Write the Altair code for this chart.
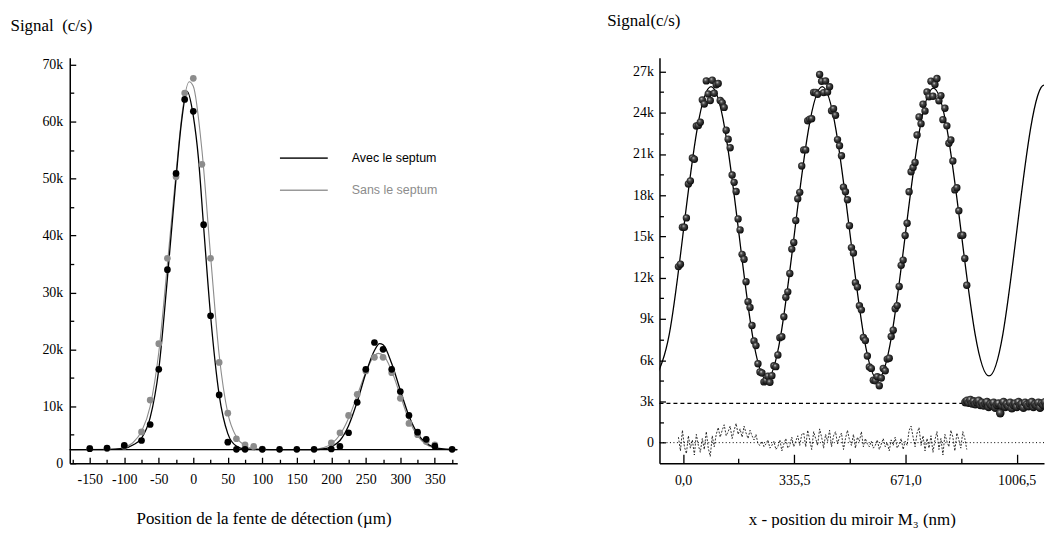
import altair as alt
import pandas as pd

# ---------------- left panel (signal in k c/s) ----------------
avec_x = [-150, -125, -100, -75, -62.5, -50, -37.5, -25, -12.5, 0, 15, 25, 37.5, 50, 62.5, 75,
          100, 125, 150, 175, 200, 212.5, 225, 237.5, 250, 262.5, 275, 287.5, 300, 312.5,
          325, 337.5, 350, 375]
avec_y = [2.56, 2.66, 3.13, 4.0, 6.8, 16.5, 34.0, 50.9, 63.9, 61.8, 41.9, 25.9, 12.0, 3.7, 2.44, 2.44,
          2.44, 2.44, 2.44, 2.44, 2.5, 2.96, 5.35, 10.7, 16.5, 21.2, 20.0, 16.5, 12.6, 8.4,
          5.45, 4.2, 3.0, 2.44]
sans_x = [-150, -125, -100, -75, -62.5, -50, -37.5, -25, -12.5, 0, 12.5, 25, 37.5, 50, 62.5, 75,
          87.5, 100, 200, 212.5, 225, 237.5, 250, 262.5, 275, 287.5, 300, 312.5, 325, 337.5, 350]
sans_y = [2.6, 2.6, 3.0, 5.5, 11.1, 21.0, 36.0, 50.3, 65.0, 67.6, 52.5, 36.0, 17.7, 8.8, 4.3, 3.25,
          2.96, 2.5, 3.6, 5.35, 8.4, 12.1, 16.2, 18.6, 18.6, 15.9, 11.4, 7.0, 5.0, 3.8, 3.25]
avec_fit_x = [-179, -125, -100, -87.5, -75, -62.5, -50, -37.5, -25, -17.5, -9, 0, 7.5, 15, 25, 37.5,
              50, 62.5, 75, 100, 175, 187.5, 200, 212.5, 225, 237.5, 250, 262.5, 270, 275, 287.5,
              300, 312.5, 325, 337.5, 350, 362.5, 382.5]
avec_fit_y = [2.4, 2.4, 2.6, 3.2, 4.4, 8.0, 16.5, 32.5, 50.0, 59.5, 65.3, 61.0, 53.5, 41.5, 26.0, 12.0,
              5.2, 3.0, 2.5, 2.4, 2.4, 2.5, 2.9, 4.0, 6.6, 10.8, 15.8, 19.8, 21.0, 20.8, 17.5,
              12.8, 8.3, 5.2, 3.5, 2.8, 2.5, 2.4]
sans_fit_x = [-179, -112.5, -100, -87.5, -75, -62.5, -50, -37.5, -25, -15, -6, 0, 12.5, 25, 37.5, 50,
              62.5, 75, 87.5, 112.5, 175, 187.5, 200, 212.5, 225, 237.5, 250, 262.5, 268, 275,
              287.5, 300, 312.5, 325, 337.5, 350, 362.5, 382.5]
sans_fit_y = [2.4, 2.5, 2.8, 3.6, 5.6, 10.0, 19.5, 35.0, 51.0, 62.5, 67.0, 66.2, 55.0, 36.5, 19.0, 8.8,
              4.6, 3.1, 2.6, 2.4, 2.4, 2.7, 3.4, 5.0, 7.9, 11.9, 16.0, 18.9, 19.3, 19.0,
              16.2, 11.9, 7.6, 4.8, 3.3, 2.7, 2.45, 2.4]
left_baseline = [2.4]
left_x_domain = [-179, 382.5]
left_y_domain = [0, 71.2]
left_x_ticks = [-175, -150, -125, -100, -75, -50, -25, 0, 25, 50, 75, 100, 125, 150, 175, 200,
                225, 250, 275, 300, 325, 350, 375]
left_y_ticks = [0, 5, 10, 15, 20, 25, 30, 35, 40, 45, 50, 55, 60, 65, 70]
legend_labels = ["Avec le septum", "Sans le septum"]

# ---------------- right panel (signal in k c/s) ----------------
mirror_x = [-14, -8, -2, 4, 10, 16, 22, 28, 34, 40, 46, 52, 58, 64, 70, 76, 82, 88, 94, 100,
            106, 112, 118, 124, 130, 136, 142, 148, 154, 160, 166, 172, 178, 184, 190, 196, 202, 208, 214, 220,
            226, 232, 238, 244, 250, 256, 262, 268, 274, 280, 286, 292, 298, 304, 310, 316, 322, 328, 334, 340,
            346, 352, 358, 364, 370, 376, 382, 388, 394, 400, 406, 412, 418, 424, 430, 436, 442, 448, 454, 460,
            466, 472, 478, 484, 490, 496, 502, 508, 514, 520, 526, 532, 538, 544, 550, 556, 562, 568, 574, 580,
            586, 592, 598, 604, 610, 616, 622, 628, 634, 640, 646, 652, 658, 664, 670, 676, 682, 688, 694, 700,
            706, 712, 718, 724, 730, 736, 742, 748, 754, 760, 766, 772, 778, 784, 790, 796, 802, 808, 814, 820,
            826, 832, 838, 844, 850, 856]
mirror_y = [12.81, 12.98, 15.67, 15.67, 16.35, 18.82, 19.04, 20.71, 20.62, 23.04,
            23.08, 23.31, 24.94, 24.64, 26.32, 25.37, 24.89, 26.37, 25.42, 26.04,
            26.13, 24.90, 24.74, 24.39, 22.73, 22.08, 21.46, 19.47, 18.94, 18.27,
            16.28, 15.48, 13.70, 13.34, 11.71, 10.25, 9.84, 8.52, 7.39, 7.06,
            5.74, 5.14, 5.07, 4.42, 4.51, 4.83, 4.39, 4.87, 5.59, 5.53,
            6.38, 7.64, 7.71, 9.16, 10.58, 10.97, 12.31, 14.08, 14.57, 16.16,
            17.75, 18.21, 20.13, 21.30, 21.30, 23.42, 23.54, 23.57, 25.48, 25.48,
            25.35, 26.79, 26.29, 25.47, 26.31, 25.51, 25.89, 24.15, 24.29, 23.82,
            22.05, 21.60, 20.87, 18.58, 18.25, 17.67, 15.78, 14.19, 13.80, 11.64,
            11.32, 9.96, 9.66, 7.65, 7.43, 6.30, 5.50, 5.40, 4.54, 4.50,
            4.80, 4.14, 4.70, 5.40, 5.23, 6.08, 6.14, 7.72, 8.18, 9.74,
            9.97, 11.36, 12.90, 13.28, 15.07, 15.96, 18.25, 19.71, 20.02, 20.38,
            22.38, 23.69, 23.21, 24.62, 24.13, 25.51, 25.17, 26.30, 25.20, 26.06,
            26.49, 24.88, 25.25, 23.50, 24.33, 23.05, 21.78, 22.02, 20.49, 18.39,
            18.55, 16.87, 15.08, 15.09, 13.40, 11.45]
residual_y = [0.4, -0.6, 0.9, -0.3, -0.8, 0.5, -0.4, 0.2, -0.9, 0.6, -0.2, -0.7, 0.3, -0.5, 0.8, -0.4, -1.0, 0.5, -0.3,
              0.6, 1.1, 0.4, 0.9, 1.3, 0.5, 0.8, 1.2, 0.3, 0.9, 1.4, 0.6, 1.0, 0.4, 1.2, 0.7, 0.3, 0.9, 0.5, 0.2, 0.6, -0.1,
              -0.2, 0.1, -0.3, -0.1, 0.2, -0.4, -0.2, 0.1, -0.5, -0.3, 0.2, -0.6, -0.1, 0.3, -0.4, -0.2, 0.4, -0.3, 0.1, 0.5, -0.2, 0.6,
              0.7, -0.3, 0.9, 0.2, -0.5, 0.8, 0.3, -0.2, 1.0, 0.4, -0.4, 0.6, 0.1, 0.9, -0.3, 0.5, 0.8, -0.1, 0.4, 0.7,
              -0.5, 0.3, 0.9, 0.2, -0.2, 0.6, -0.4, 0.4, 0.1, 0.8, -0.3, 0.3, -0.1,
              -0.3, 0.1, -0.4, -0.2, 0.2, -0.5, -0.1, 0.3, -0.3, 0.0, -0.6, 0.2, -0.2, 0.4, -0.4, -0.1, 0.3, -0.5, 0.1, -0.2,
              0.9, 1.2, 0.4, -0.3, 0.7, 1.1, -0.2, 0.5, -0.6, 0.3,
              -0.4, 0.5, -0.7, 0.2, 0.8, -0.5, 0.3, -0.9, 0.6, 0.1, -0.3, 0.9, 0.4, -0.6, 0.7, 0.2, -0.4, 0.8, 0.3, -0.5]
fit_x = [-83.5, -41.6, 0.4, 42.3, 84.3, 126.2, 168.1, 210.1, 252.0, 294.0, 335.9, 377.8, 419.8, 461.7,
         503.6, 545.6, 587.5, 629.4, 671.4, 713.3, 755.3, 797.2, 839.1, 881.1, 923.0, 964.9, 1006.9,
         1048.8, 1090.8, 1132.7]
fit_y = [4.7, 7.9, 15.3, 22.8, 25.9, 22.8, 15.3, 7.7, 4.6, 7.7, 15.2, 22.7, 25.9, 22.7,
         15.2, 7.7, 4.6, 7.8, 15.3, 22.7, 25.8, 22.7, 15.3, 7.9, 4.85, 7.9, 15.4,
         22.9, 26.0, 22.9]
background_x = [852, 857, 862, 867, 872, 877, 882, 887, 892, 897, 902, 907, 912, 917, 922, 927, 932, 937,
                942, 947, 952, 957, 962, 967, 972, 977, 982, 987, 992, 997, 1002, 1007, 1012, 1017, 1022,
                1027, 1032, 1037, 1042, 1047, 1052, 1057, 1062, 1067, 1072, 1077, 1082, 1087, 1092, 1097,
                1102, 1107]
background_y = [2.95, 3.05, 2.90, 3.10, 2.85, 3.00, 2.80, 2.95, 3.05, 2.75,
                2.90, 2.70, 2.85, 2.95, 2.60, 2.80, 2.70, 2.90, 2.55, 2.75,
                2.85, 2.15, 2.70, 2.95, 2.60, 2.80, 2.65, 2.90, 2.50, 2.75,
                2.85, 2.60, 2.95, 2.70, 2.80, 2.55, 2.90, 2.75, 2.65, 2.85,
                2.95, 2.60, 2.80, 2.70, 2.90, 2.55, 2.85, 2.75, 2.95, 2.65,
                2.80, 2.90]
background_level = 2.85
right_x_domain = [-71.2, 1089]
right_y_domain = [-1.5, 28]
right_x_ticks = [0, 167.75, 335.5, 503.25, 671, 838.75, 1006.5]
right_y_ticks = [0, 1.5, 3, 4.5, 6, 7.5, 9, 10.5, 12, 13.5, 15, 16.5, 18, 19.5, 21, 22.5, 24, 25.5, 27]

SERIF = "Liberation Serif"
SANS = "Liberation Sans"
PLOT_H = 407

common_axis = dict(labelFont=SERIF, labelFontSize=14, labelColor="black",
                   titleFont=SERIF, titleFontSize=17, titleFontWeight="normal", titleColor="black",
                   domainColor="black", domainWidth=1.5, tickColor="black", tickWidth=1.3, grid=False)

# ---------------- left panel ----------------
lx = alt.X("x:Q", scale=alt.Scale(domain=left_x_domain, nice=False, zero=False),
           axis=alt.Axis(values=left_x_ticks,
                         labelExpr="datum.value % 50 == 0 ? '' + datum.value : ''",
                         tickSize={"expr": "datum.value % 50 == 0 ? -6 : -4"},
                         labelPadding=15,
                         title="Position de la fente de détection (µm)",
                         titleY=60, titleBaseline="alphabetic", **common_axis))
ly = alt.Y("y:Q", scale=alt.Scale(domain=left_y_domain, nice=False, zero=False),
           axis=alt.Axis(values=left_y_ticks,
                         labelExpr="datum.value % 10 == 0 ? (datum.value == 0 ? '0' : datum.value + 'k') : ''",
                         tickSize={"expr": "datum.value % 10 == 0 ? -6 : -4"},
                         labelPadding=13,
                         title="Signal\u00a0 (c/s)", titleAngle=0, titleAlign="left",
                         titleX=-60, titleY=-27, titleBaseline="alphabetic", **common_axis))

sans_line = alt.Chart(pd.DataFrame({"x": sans_fit_x, "y": sans_fit_y})).mark_line(
    color="#8c8c8c", strokeWidth=1.1, interpolate="monotone").encode(x=lx, y=ly)
avec_line = alt.Chart(pd.DataFrame({"x": avec_fit_x, "y": avec_fit_y})).mark_line(
    color="black", strokeWidth=1.3, interpolate="monotone").encode(x=lx, y=ly)
base_rule = alt.Chart(pd.DataFrame({"y": left_baseline})).mark_rule(
    color="black", strokeWidth=1.3).encode(y=ly)
sans_pts = alt.Chart(pd.DataFrame({"x": sans_x, "y": sans_y})).mark_circle(
    color="#8c8c8c", size=45, opacity=1).encode(x=lx, y=ly)
avec_pts = alt.Chart(pd.DataFrame({"x": avec_x, "y": avec_y})).mark_circle(
    color="black", size=45, opacity=1).encode(x=lx, y=ly)

one = pd.DataFrame({"a": [0]})
leg1 = alt.Chart(one).mark_rule(color="#333333", strokeWidth=2).encode(
    x=alt.value(211), x2=alt.value(259), y=alt.value(100.7))
leg2 = alt.Chart(one).mark_rule(color="#999999", strokeWidth=1.5).encode(
    x=alt.value(211), x2=alt.value(259), y=alt.value(133))
legt1 = alt.Chart(one).mark_text(text=legend_labels[0], align="left", baseline="middle",
                                 font=SANS, fontSize=12.5, color="black").encode(
    x=alt.value(283), y=alt.value(101))
legt2 = alt.Chart(one).mark_text(text=legend_labels[1], align="left", baseline="middle",
                                 font=SANS, fontSize=12.5, color="#8c8c8c").encode(
    x=alt.value(283), y=alt.value(133))

left = alt.layer(sans_line, avec_line, base_rule, sans_pts, avec_pts, leg1, leg2, legt1, legt2).properties(
    width=389, height=PLOT_H)

# ---------------- right panel ----------------
rx = alt.X("x:Q", scale=alt.Scale(domain=right_x_domain, nice=False, zero=False),
           axis=alt.Axis(values=right_x_ticks,
                         labelExpr="datum.value % 335.5 == 0 ? replace(format(datum.value, '.1f'), '.', ',') : ''",
                         tickSize={"expr": "datum.value % 335.5 == 0 ? -9 : -5"},
                         labelPadding=19,
                         title="x - position du miroir M\u2083 (nm)",
                         titleY=61, titleBaseline="alphabetic", **common_axis))
ry = alt.Y("y:Q", scale=alt.Scale(domain=right_y_domain, nice=False, zero=False),
           axis=alt.Axis(values=right_y_ticks,
                         labelExpr="datum.value % 3 == 0 ? (datum.value == 0 ? '0' : datum.value + 'k') : ''",
                         tickSize={"expr": "datum.value % 3 == 0 ? -6 : -4"},
                         labelPadding=12,
                         title="Signal(c/s)", titleAngle=0, titleAlign="left",
                         titleX=-53, titleY=-32, titleBaseline="alphabetic", **common_axis))

sphere = alt.RadialGradient(
    gradient="radial",
    stops=[alt.GradientStop(color="#e6e6e6", offset=0),
           alt.GradientStop(color="#505050", offset=0.3),
           alt.GradientStop(color="#000000", offset=1)],
    x1=0.38, y1=0.32, r1=0, x2=0.45, y2=0.45, r2=0.6)

fit_line = alt.Chart(pd.DataFrame({"x": fit_x, "y": fit_y})).mark_line(
    color="black", strokeWidth=1.3, interpolate="natural", clip=True).encode(x=rx, y=ry)
zero_rule = alt.Chart(pd.DataFrame({"y": [0]})).mark_rule(
    color="black", strokeWidth=1, strokeDash=[1, 2.5]).encode(y=ry)
bg_rule = alt.Chart(pd.DataFrame({"x": [right_x_domain[0]], "x2": [background_x[0]],
                                  "y": [background_level]})).mark_rule(
    color="black", strokeWidth=1.2, strokeDash=[4, 3]).encode(x=rx, x2="x2:Q", y=ry)
resid = alt.Chart(pd.DataFrame({"x": mirror_x, "y": residual_y})).mark_line(
    color="black", strokeWidth=0.8, strokeDash=[2, 1.5]).encode(x=rx, y=ry)
bg_pts = alt.Chart(pd.DataFrame({"x": background_x, "y": background_y})).mark_point(
    shape="circle", filled=True, fill=sphere, size=75, opacity=1, strokeWidth=0, clip=True).encode(x=rx, y=ry)
mirror_pts = alt.Chart(pd.DataFrame({"x": mirror_x, "y": mirror_y})).mark_point(
    shape="circle", filled=True, fill=sphere, size=55, opacity=1, strokeWidth=0).encode(x=rx, y=ry)

right = alt.layer(fit_line, zero_rule, bg_rule, resid, bg_pts, mirror_pts).properties(
    width=386, height=PLOT_H)

chart = alt.hconcat(left, right, spacing=147).properties(
    padding={"left": 2, "top": 3, "right": 0, "bottom": 0}
).configure_axis(**common_axis).configure_view(stroke=None)

chart.save("out.html", embed_options={"renderer": "svg", "actions": False})
